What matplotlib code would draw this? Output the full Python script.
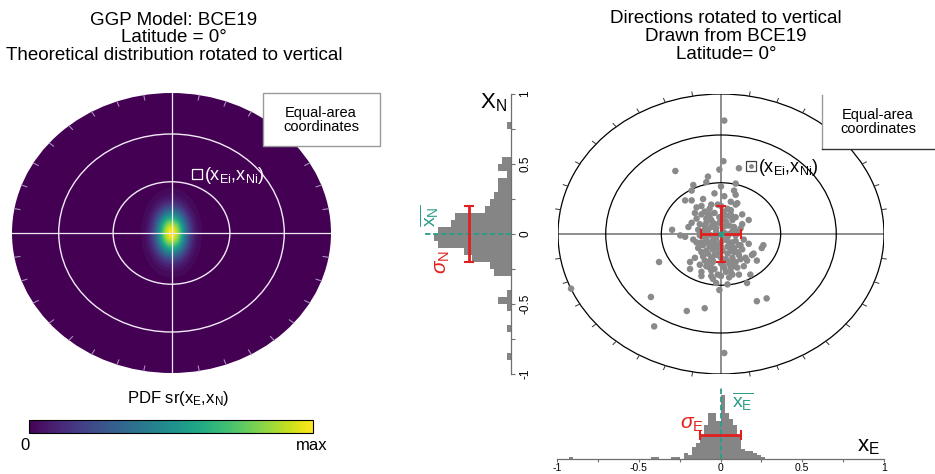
import numpy as np
import matplotlib
matplotlib.use("Agg")
import matplotlib.pyplot as plt
from matplotlib.patches import Circle, Rectangle
from matplotlib.lines import Line2D
from matplotlib.cm import ScalarMappable
from matplotlib.colors import Normalize

plt.rcParams['font.family'] = ['Liberation Sans', 'DejaVu Sans']
plt.rcParams['mathtext.fontset'] = 'custom'
plt.rcParams['mathtext.rm'] = 'Liberation Sans'
plt.rcParams['mathtext.it'] = 'Liberation Sans:italic'
plt.rcParams['mathtext.bf'] = 'Liberation Sans:bold'

# ---------------- data ----------------
LEFT_TITLE = ["GGP Model: BCE19", "Latitude = 0°", "Theoretical distribution rotated to vertical"]
RIGHT_TITLE = ["Directions rotated to vertical", "Drawn from BCE19", "Latitude= 0°"]

# theoretical PDF parameters (equal-area coords)
PDF_SIGMA_E = 0.063
PDF_SIGMA_N = 0.106

# guide circles: colatitudes (deg) in equal-area projection
GUIDE_COLAT = [30, 60, 90]

# sample statistics
MEAN_E, MEAN_N = 0.0, 0.0
SIGMA_E, SIGMA_N = 0.125, 0.20

# scatter of drawn directions (x_E, x_N)
SCATTER_E = [0.02, 0.015, -0.28, -0.01, 0.11, -0.08, -0.09, 0.09, 0.0, -0.18, -0.22, 0.09, 0.1, -0.06,
             0.17, -0.3, -0.25, -0.22, 0.26, 0.25, 0.19, 0.15, 0.16, 0.22, -0.38, -0.19, 0.08, -0.08,
             -0.07, 0.0, -0.02, 0.06, -0.05, 0.05, 0.07, -0.43, 0.22, 0.28, -0.1, -0.21, -0.41, 0.02,
             -0.92,
             -0.18, -0.02, -0.07, 0.09, 0.06, -0.16, -0.12, -0.09, 0.05, 0.09, -0.18, -0.13, -0.09,
             -0.05, 0.05, 0.08, -0.17, -0.09, -0.05, 0.03, 0.07, 0.14, -0.11, -0.07, -0.02, 0.04, 0.08,
             0.11, -0.12, -0.08, -0.04, 0.04, 0.1, 0.2, -0.1, -0.05, 0.05, 0.09, -0.09, -0.04, 0.02,
             0.06, -0.19, -0.06, 0.11, 0.18,
             -0.14, -0.11, -0.08, -0.06, -0.03, 0.01, 0.03, -0.01, -0.04, 0.02, -0.1, 0.12, -0.13,
             -0.1, -0.06, -0.03, 0.02, 0.05, 0.09, 0.1, -0.12, -0.08, -0.04, 0.0, 0.05, 0.09, -0.14,
             -0.05, 0.01, 0.06, 0.13, -0.11, -0.06, 0.0, 0.03, 0.07, 0.12, -0.13, 0.0, 0.03, -0.03,
             0.04, -0.15, 0.13, 0.02, -0.04, -0.12, 0.06, -0.15, 0.13, -0.2, 0.17, 0.14, -0.16, -0.01,
             -0.07, 0.07, 0.0, -0.11, 0.04, -0.02, 0.1, -0.12, 0.16, -0.06, -0.01, 0.08, -0.17,
             -0.08, -0.03, 0.03, 0.07, -0.06, 0.01, 0.05, -0.09, -0.02, 0.02, -0.05, 0.06, -0.1,
             0.08, -0.07, 0.0, 0.04, -0.03, -0.12, 0.11, -0.04, 0.03, -0.08, 0.06, 0.01, -0.06,
             0.09, -0.01, -0.15, 0.12]
SCATTER_N = [0.81, 0.52, 0.45, 0.46, 0.47, 0.41, 0.37, 0.36, 0.34, 0.31, 0.24, 0.28, 0.22, 0.21,
             0.1, 0.03, -0.01, -0.02, -0.08, -0.1, -0.15, -0.17, -0.19, -0.19, -0.2, -0.2, -0.23, -0.2,
             -0.24, -0.3, -0.29, -0.27, -0.32, -0.31, -0.29, -0.45, -0.48, -0.46, -0.53, -0.55, -0.66, -0.85,
             -0.39,
             0.24, 0.21, 0.18, 0.21, 0.17, 0.15, 0.14, 0.11, 0.13, 0.12, 0.08, 0.07, 0.08,
             0.08, 0.06, 0.05, -0.04, -0.04, -0.05, -0.04, -0.06, -0.04, -0.08, -0.09, -0.1, -0.09, -0.1,
             -0.08, -0.13, -0.14, -0.15, -0.14, -0.13, -0.14, -0.19, -0.2, -0.21, -0.2, -0.23, -0.25, -0.24,
             -0.24, -0.25, -0.3, -0.29, -0.29,
             0.03, 0.02, 0.03, 0.05, 0.04, 0.05, 0.09, 0.12, 0.15, 0.16, 0.16, 0.04, -0.01,
             -0.02, -0.01, -0.02, 0.01, 0.0, -0.01, 0.02, -0.06, -0.06, -0.07, -0.06, -0.06, -0.05, -0.1,
             -0.11, -0.12, -0.12, -0.11, -0.16, -0.17, -0.17, -0.18, -0.17, -0.18, -0.22, -0.21, -0.27, -0.35,
             -0.36, 0.11, 0.14, 0.27, 0.29, 0.2, 0.23, 0.19, 0.07, 0.05, -0.07, -0.23, -0.17, 0.08,
             0.12, 0.1, 0.2, 0.25, -0.02, -0.14, -0.24, -0.3, -0.35, -0.26, -0.4, 0.31, 0.35,
             0.0, -0.03, 0.06, 0.02, 0.1, 0.1, -0.09, -0.12, -0.15, 0.13, -0.19, -0.2, 0.06,
             -0.13, 0.14, -0.09, 0.18, 0.02, -0.27, -0.15, 0.07, -0.04, 0.13, 0.14, -0.22, -0.24,
             0.02, -0.07, -0.06, -0.08]

# histogram of x_N (bin width 0.05)
N_BIN_WIDTH = 0.05
N_BIN_CENTERS = [-0.875, -0.675, -0.525, -0.475, -0.425, -0.275, -0.225, -0.175, -0.125, -0.075,
                 -0.025, 0.025, 0.075, 0.125, 0.175, 0.225, 0.275, 0.325, 0.375, 0.425, 0.475, 0.525, 0.775]
N_COUNTS = [1, 1, 1, 3, 1, 4, 5, 9, 11, 17, 18, 17, 14, 13, 6, 5, 4, 3, 3, 1, 3, 2, 1]

# histogram of x_E (bin width 0.025)
E_BIN_WIDTH = 0.025
E_BIN_CENTERS = [-0.9125, -0.4125, -0.3875, -0.2875, -0.2625, -0.2125, -0.1875, -0.1625, -0.1375,
                 -0.1125, -0.0875, -0.0625, -0.0375, -0.0125, 0.0125, 0.0375, 0.0625, 0.0875, 0.1125,
                 0.1375, 0.1625, 0.1875, 0.2125, 0.2375, 0.2625]
E_COUNTS = [1, 1, 1, 1, 1, 3, 2, 6, 8, 12, 17, 23, 23, 19, 32, 23, 20, 17, 12, 5, 4, 4, 3, 2, 1]

AXIS_TICKS = [-1, -0.5, 0, 0.5, 1]
AXIS_TICK_LABELS = ["-1", "-0.5", "0", "0.5", "1"]
MINOR_TICKS = [-0.75, -0.25, 0.25, 0.75]

# ---------------- styling ----------------
W, H = 935, 474
RED = '#e0201e'
TEAL = '#2a9d88'
BAR_GRAY = '#858585'
DOT_GRAY = '#8a8a8a'
AX_GRAY = '#6f6f6f'
DARK = plt.get_cmap('viridis')(0.0)


def rect(x0, y0, x1, y1):
    return [x0 / W, 1 - y1 / H, (x1 - x0) / W, (y1 - y0) / H]


def fx(x):
    return x / W


def fy(y):
    return 1 - y / H


fig = plt.figure(figsize=(W / 100, H / 100), dpi=100)
fig.patch.set_facecolor('white')

radii = [np.sqrt(2) * np.sin(np.radians(c) / 2) for c in GUIDE_COLAT]
tick_angles = [a for a in range(0, 360, 10) if a % 90 != 0]

# ---------------- left panel ----------------
ax1 = fig.add_axes(rect(12, 93, 331, 373))
ax1.set_xlim(-1, 1)
ax1.set_ylim(-1, 1)
ax1.axis('off')
ax1.add_patch(Circle((0, 0), 1, facecolor=DARK, edgecolor='none', zorder=0))
g = np.linspace(-1, 1, 401)
GX, GY = np.meshgrid(g, g)
Z = np.exp(-0.5 * ((GX - MEAN_E) / PDF_SIGMA_E) ** 2 - 0.5 * ((GY - MEAN_N) / PDF_SIGMA_N) ** 2)
levels = np.linspace(0.012, 1.0, 40)
ax1.contourf(GX, GY, Z, levels=levels, cmap='viridis', vmin=0, vmax=1, zorder=1)
for r in radii[:-1]:
    ax1.add_patch(Circle((0, 0), r, facecolor='none', edgecolor='#f2eaf6', lw=1.0, zorder=3))
ax1.plot([-1, 1], [0, 0], color='#f2eaf6', lw=0.9, zorder=3)
ax1.plot([0, 0], [-1, 1], color='#f2eaf6', lw=0.9, zorder=3)
for a in tick_angles:
    t = np.radians(a)
    ax1.plot([0.965 * np.cos(t), np.cos(t)], [0.965 * np.sin(t), np.sin(t)],
             color='#a98fbb', lw=0.8, zorder=3)

for line, yb in zip(LEFT_TITLE, [25, 42, 60]):
    fig.text(fx(174), fy(yb), line, ha='center', va='baseline', fontsize=13.5)
fig.add_artist(Rectangle((fx(263), fy(146)), (380 - 263) / W, (146 - 93) / H,
                         transform=fig.transFigure, facecolor='white', edgecolor='#9a9a9a', lw=1.0))
fig.text(fx(321), fy(120), "Equal-area\ncoordinates", ha='center', va='center', fontsize=10.5,
         linespacing=1.05)
fig.add_artist(Line2D([fx(197)], [fy(174)], marker='s', ms=6.5, mfc='none', mec='white', mew=0.9,
                      transform=fig.transFigure))
fig.text(fx(204), fy(175), r"(x$_\mathregular{Ei}$,x$_\mathregular{Ni}$)", ha='left', va='center',
         fontsize=13, color='white')

# colorbar
cax = fig.add_axes(rect(29, 420, 313, 433))
cb = fig.colorbar(ScalarMappable(norm=Normalize(0, 1), cmap='viridis'), cax=cax, orientation='horizontal')
cb.set_ticks([])
cb.outline.set_linewidth(0.8)
fig.text(fx(178), fy(399), r"PDF sr(x$_\mathregular{E}$,x$_\mathregular{N}$)", ha='center', va='center',
         fontsize=12)
fig.text(fx(25), fy(446), "0", ha='center', va='center', fontsize=12)
fig.text(fx(312), fy(446), "max", ha='center', va='center', fontsize=12)

# ---------------- right panel ----------------
ax2 = fig.add_axes(rect(558, 94, 884, 374))
ax2.set_xlim(-1, 1)
ax2.set_ylim(-1, 1)
ax2.axis('off')
for r in radii:
    ax2.add_patch(Circle((0, 0), r, facecolor='none', edgecolor='black', lw=0.9, zorder=2))
ax2.plot([-1, 1], [0, 0], color=AX_GRAY, lw=1.1, zorder=1)
ax2.plot([0, 0], [-1, 1], color=AX_GRAY, lw=1.1, zorder=1)
for a in tick_angles:
    t = np.radians(a)
    ax2.plot([np.cos(t), 1.03 * np.cos(t)], [np.sin(t), 1.03 * np.sin(t)],
             color='#333333', lw=0.7, zorder=2, clip_on=False)
ax2.scatter(SCATTER_E, SCATTER_N, s=22, color=DOT_GRAY, edgecolors='none', zorder=3)
ax2.errorbar([MEAN_E], [MEAN_N], xerr=[SIGMA_E], yerr=[SIGMA_N], fmt='none', ecolor=RED,
             elinewidth=2.0, capsize=3.5, capthick=1.5, zorder=4)
ax2.plot([MEAN_E], [MEAN_N], 'o', color=TEAL, ms=3.5, zorder=5)

for line, yb in zip(RIGHT_TITLE, [23, 41, 59]):
    fig.text(fx(726), fy(yb), line, ha='center', va='baseline', fontsize=13.5)
fig.add_artist(Rectangle((fx(822), fy(149)), (945 - 822) / W, (149 - 95) / H,
                         transform=fig.transFigure, facecolor='white', edgecolor='none'))
fig.add_artist(Line2D([fx(822), fx(822)], [fy(95), fy(149)], color='#9a9a9a', lw=1.0,
                      transform=fig.transFigure))
fig.add_artist(Line2D([fx(822), fx(935)], [fy(149), fy(149)], color='#333333', lw=1.0,
                      transform=fig.transFigure))
fig.text(fx(878), fy(122), "Equal-area\ncoordinates", ha='center', va='center', fontsize=10.5,
         linespacing=1.05)
fig.add_artist(Line2D([fx(751)], [fy(166)], marker='s', ms=6.5, mfc='none', mec='#444444', mew=0.9,
                      transform=fig.transFigure))
fig.add_artist(Line2D([fx(751)], [fy(166)], marker='o', ms=3.5, mfc=DOT_GRAY, mec='none',
                      transform=fig.transFigure))
fig.text(fx(758), fy(167), r"(x$_\mathregular{Ei}$,x$_\mathregular{Ni}$)", ha='left', va='center',
         fontsize=13, color='black')

# ---------------- N histogram ----------------
axN = fig.add_axes(rect(420, 94, 511, 374))
axN.barh(N_BIN_CENTERS, N_COUNTS, height=N_BIN_WIDTH, color=BAR_GRAY, edgecolor='none')
axN.set_xlim(21.2, 0)
axN.set_ylim(-1, 1)
for s in ['left', 'top', 'bottom']:
    axN.spines[s].set_visible(False)
axN.spines['right'].set_color(AX_GRAY)
axN.spines['right'].set_linewidth(0.9)
axN.set_xticks([])
axN.yaxis.tick_right()
axN.set_yticks(AXIS_TICKS)
axN.set_yticklabels(AXIS_TICK_LABELS, rotation=90, va='center', fontsize=8.5)
axN.set_yticks(MINOR_TICKS, minor=True)
axN.tick_params(axis='y', which='both', direction='out', color=AX_GRAY, length=3, width=0.8, pad=3)
axN.patch.set_alpha(0)
axN.plot([20.0, 0], [MEAN_N, MEAN_N], color=TEAL, lw=1.3, dashes=(3, 1.5), zorder=4)
axN.errorbar([9.8], [MEAN_N], yerr=[SIGMA_N], fmt='none', ecolor=RED, elinewidth=2.0, capsize=3.5,
             capthick=1.5, zorder=5)
fig.text(fx(493), fy(103), r"X$_\mathregular{N}$", ha='center', va='center', fontsize=16)
fig.text(fx(430), fy(216), r"$\overline{\mathregular{x_N}}$", ha='center', va='center', fontsize=14,
         color=TEAL, rotation=90)
fig.text(fx(442), fy(262), r"$\sigma_\mathregular{N}$", ha='center', va='center', fontsize=15,
         color=RED, rotation=90)

# ---------------- E histogram ----------------
axE = fig.add_axes(rect(557, 379, 884, 459))
axE.bar(E_BIN_CENTERS, E_COUNTS, width=E_BIN_WIDTH, color=BAR_GRAY, edgecolor='none')
axE.set_xlim(-1, 1)
axE.set_ylim(0, 40)
for s in ['left', 'top', 'right']:
    axE.spines[s].set_visible(False)
axE.spines['bottom'].set_color(AX_GRAY)
axE.spines['bottom'].set_linewidth(0.9)
axE.set_yticks([])
axE.set_xticks(AXIS_TICKS)
axE.set_xticklabels(AXIS_TICK_LABELS, fontsize=7.5)
axE.set_xticks(MINOR_TICKS, minor=True)
axE.tick_params(axis='x', which='both', direction='out', color=AX_GRAY, length=2.5, width=0.8, pad=0.5)
axE.patch.set_alpha(0)
axE.plot([MEAN_E, MEAN_E], [0, 35.5], color=TEAL, lw=1.3, dashes=(3, 1.5), zorder=4)
axE.errorbar([MEAN_E], [12], xerr=[SIGMA_E], fmt='none', ecolor=RED, elinewidth=2.0, capsize=3.5,
             capthick=1.5, zorder=5)
fig.text(fx(868), fy(446), r"x$_\mathregular{E}$", ha='center', va='center', fontsize=16)
fig.text(fx(743), fy(402), r"$\overline{\mathregular{x_E}}$", ha='center', va='center', fontsize=14,
         color=TEAL)
fig.text(fx(692), fy(424), r"$\sigma_\mathregular{E}$", ha='center', va='center', fontsize=15,
         color=RED)

fig.savefig('out.png', dpi=100)
